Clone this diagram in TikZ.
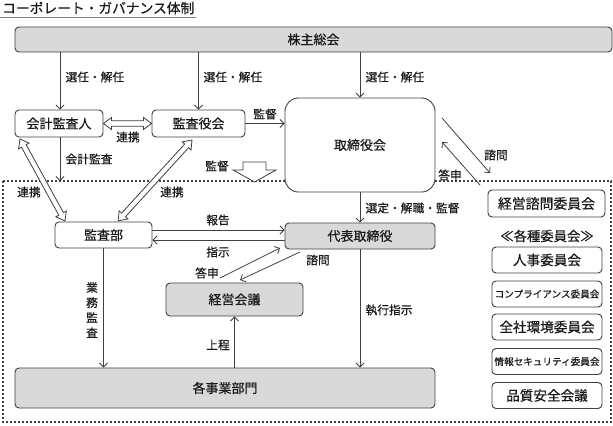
\documentclass[tikz,border=0pt]{standalone}
\usepackage{fontspec}
\setmainfont{Noto Sans CJK JP}[FakeBold=0.5]
\usetikzlibrary{arrows.meta,calc}
\definecolor{boxgray}{HTML}{D9D9D9}
\definecolor{linegray}{HTML}{404040}
\definecolor{txt}{HTML}{1A1A1A}
\tikzset{
  sz/.style 2 args={minimum width={#1*0.75pt}, minimum height={#2*0.75pt}},
  box/.style={draw=linegray, line width=0.7pt, rounded corners=3pt, fill=white, inner sep=0pt, text=txt, font=\fontsize{9.75}{11}\selectfont},
  gbox/.style={box, fill=boxgray},
  arr/.style={draw=linegray, line width=0.6pt, -{Straight Barb[length=3pt,width=6pt]}},
  lbl/.style={font=\fontsize{8.8}{10.2}\selectfont, inner sep=1pt, text=txt},
  hollow/.style={draw=linegray, line width=0.6pt, fill=white},
  framestyle/.style={draw=linegray, line width=0.8pt, dash pattern=on 1.5pt off 1.5pt},
  cbox/.style={box, sz={110}{26}, font=\fontsize{10.2}{12}\selectfont},
}
\newcommand{\hdarr}[2]{%
  \path[hollow] let \p1=(#1), \p2=(#2), \n1={atan2(\y2-\y1,\x2-\x1)}, \n2={veclen(\x2-\x1,\y2-\y1)} in
  [shift={(\p1)}, rotate=\n1]
  (0pt,0pt) -- (6pt,4.5pt) -- (6pt,2pt) -- ({\n2*1pt-6pt},2pt) -- ({\n2*1pt-6pt},4.5pt) -- ({\n2*1pt},0pt)
  -- ({\n2*1pt-6pt},-4.5pt) -- ({\n2*1pt-6pt},-2pt) -- (6pt,-2pt) -- (6pt,-4.5pt) -- cycle;}
\begin{document}
\begin{tikzpicture}[x=0.75pt,y=-0.75pt]
\useasboundingbox (0,0) rectangle (613,425);
% title
\node[anchor=west, inner sep=0pt, text=txt, font=\fontsize{10.3}{12}\selectfont] (title) at (2,8) {コーポレート・ガバナンス体制};
\draw[gray, line width=1.3pt] (0,17.5) -- (196,17.5);
% dotted frame
\draw[framestyle] (3,181) rectangle (611,422);
% boxes
\node[gbox, sz={597}{25}] (share) at (313.5,39.5) {株主総会};
\node[box, sz={88}{27}] (kaikei) at (59,123.5) {会計監査人};
\node[box, sz={93}{27}] (kansa) at (198.5,123.5) {監査役会};
\node[box, sz={150}{94}, rounded corners=10pt] (board) at (360,145) {取締役会};
\node[box, sz={97}{26}] (audit) at (103.5,235) {監査部};
\node[gbox, sz={150}{26}] (ceo) at (360,236) {代表取締役};
\node[gbox, sz={137}{33}] (mgmt) at (234.5,299.5) {経営会議};
\node[gbox, sz={420}{40}] (div) at (225,388) {各事業部門};
\node[box, sz={117}{27}, font=\fontsize{10.4}{12}\selectfont] (adv) at (546.5,203.5) {経営諮問委員会};
\node[inner sep=0pt, text=txt, font=\fontsize{10}{12}\selectfont] (various) at (547,236) {≪各種委員会≫};
\node[cbox] (c1) at (547,260) {人事委員会};
\node[cbox, font=\fontsize{7.2}{9}\selectfont] (c2) at (547,294) {コンプライアンス委員会};
\node[cbox] (c3) at (547,327) {全社環境委員会};
\node[cbox, font=\fontsize{7.2}{9}\selectfont] (c4) at (547,361.5) {情報セキュリティ委員会};
\node[cbox] (c5) at (547,395.5) {品質安全会議};
% shareholders arrows
\draw[arr] (share.south -| 60,0) -- (kaikei.north -| 60,0);
\node[lbl, anchor=west] (l1) at (64,77) {選任・解任};
\draw[arr] (share.south -| kansa.north) -- (kansa.north);
\node[lbl, anchor=west] (l2) at (202,77) {選任・解任};
\draw[arr] (share.south -| board.north) -- (board.north);
\node[lbl, anchor=west] (l3) at (364,77) {選任・解任};
% kaikei <-> kansa
\hdarr{kaikei.east}{kansa.west}
\node[lbl] (l4) at (128,137) {連携};
% kansa -> board
\draw[arr] (kansa.east) -- (board.west |- kansa.east);
\node[lbl] (l5) at (265,114) {監督};
% kaikei audit
\coordinate (kaend) at (60,181);
\draw[arr] (kaikei.south -| kaend) -- (kaend);
\node[lbl] (l6) at (89,159) {会計監査};
% hollow block arrow
\draw[hollow] (243,162) -- (266,162) -- (266,170) -- (276,170) -- (254.5,182) -- (233,170) -- (243,170) -- cycle;
\node[lbl] (l7) at (217,166) {監督};
% 連携 diagonals
\coordinate (d1a) at (20,139);
\coordinate (d1b) at (65,221);
\hdarr{d1a}{d1b}
\node[lbl] (l8) at (29,192) {連携};
\coordinate (d2a) at (192,140);
\coordinate (d2b) at (118,221);
\hdarr{d2a}{d2b}
\node[lbl] (l9) at (172,192) {連携};
% board -> ceo
\draw[arr] (board.south) -- (ceo.north);
\node[lbl, anchor=west] (l10) at (364,208) {選定・解職・監督};
% report / instruct
\draw[arr] (audit.east |- 0,230) -- (ceo.west |- 0,230);
\node[lbl] (l11) at (218,220) {報告};
\draw[arr] (ceo.west |- 0,240) -- (audit.east |- 0,240);
\node[lbl] (l12) at (218,252) {指示};
% mgmt <-> ceo
\coordinate (t1) at (220,278);
\coordinate (t2) at (280,248);
\draw[arr] (t1) -- (t2);
\node[lbl] (l13) at (207,273) {答申};
\coordinate (s1) at (300,252);
\coordinate (s2) at (240,280);
\draw[arr] (s1) -- (s2);
\node[lbl] (l14) at (318,260) {諮問};
% div -> mgmt
\draw[arr] (mgmt.south |- div.north) -- (mgmt.south);
\node[lbl] (l15) at (218,345) {上程};
% audit -> div
\draw[arr] (audit.south) -- (audit.south |- div.north);
\node[lbl, align=center, font=\fontsize{8.8}{11.3}\selectfont] (l16) at (92,310) {業\\務\\監\\査};
% ceo -> div
\draw[arr] (ceo.south) -- (ceo.south |- div.north);
\node[lbl] (l17) at (389,310) {執行指示};
% board <-> advisory
\coordinate (q1) at (442,118);
\coordinate (q2) at (490,173);
\draw[arr] (q1) -- (q2);
\node[lbl] (l18) at (496,155) {諮問};
\coordinate (r1) at (480,185);
\coordinate (r2) at (442,142);
\draw[arr] (r1) -- (r2);
\node[lbl] (l19) at (450,175) {答申};
\end{tikzpicture}
\end{document}
